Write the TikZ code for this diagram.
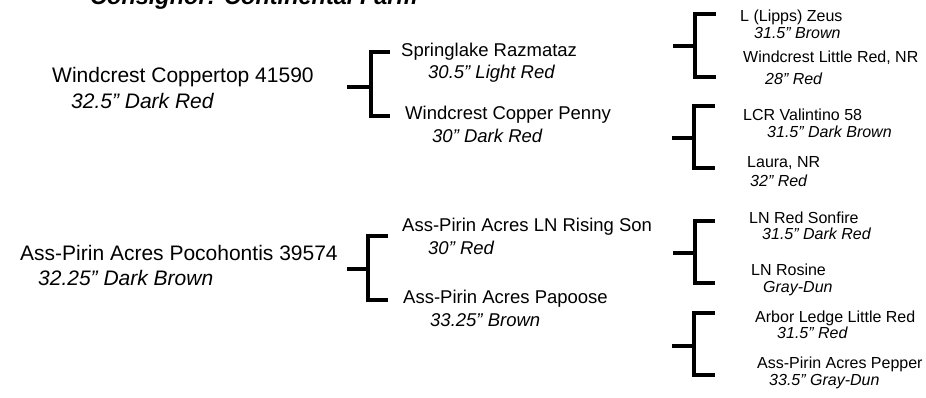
\documentclass[tikz,border=0pt]{standalone}
\usepackage{fontspec}
\setmainfont{Liberation Sans}

\begin{document}
\begin{tikzpicture}[
    x=1pt, y=-1pt,
    titulo/.style={
    anchor=base west,
    inner sep=0pt,
    font=\fontsize{23.5}{28}\selectfont\bfseries\itshape
    },
    nome0/.style={anchor=base west, inner sep=0pt, font=\fontsize{21}{25}\selectfont},
    info0/.style={nome0, font=\fontsize{21}{25}\selectfont\itshape},
    nome1/.style={anchor=base west, inner sep=0pt, font=\fontsize{18.5}{22}\selectfont},
    info1/.style={nome1, font=\fontsize{18.5}{22}\selectfont\itshape},
    nome2/.style={anchor=base west, inner sep=0pt, font=\fontsize{16}{19}\selectfont},
    info2/.style={nome2, font=\fontsize{16}{19}\selectfont\itshape},
    chave/.style={line width=3.6pt, line join=miter}
    ]
    
    \useasboundingbox (0,0) rectangle (926,398);
    
    \node[titulo] (tit) at (90,5) {Consignor: Continental Farm};
    
    % first animal
    \node[nome0] (wc) at (52,83) {Windcrest Coppertop 41590};
    \node[info0] (wcI) at (71,109) {32.5” Dark Red};
    
    \node[nome1] (sr) at (401,57) {Springlake Razmataz};
    \node[info1] (srI) at (428,79) {30.5” Light Red};
    \node[nome1] (wp) at (405,120) {Windcrest Copper Penny};
    \node[info1] (wpI) at (432,143) {30” Dark Red};
    
    \node[nome2] (lz) at (740,22) {L (Lipps) Zeus};
    \node[info2] (lzI) at (754,39) {31.5” Brown};
    \node[nome2] (wl) at (743,63) {Windcrest Little Red, NR};
    \node[info2] (wlI) at (765,85) {28” Red};
    \node[nome2] (lv) at (743,121) {LCR Valintino 58};
    \node[info2] (lvI) at (767,138) {31.5” Dark Brown};
    \node[nome2] (la) at (747,168) {Laura, NR};
    \node[info2] (laI) at (750,187) {32” Red};
    
    % second animal
    \node[nome0] (ap) at (20,260) {Ass-Pirin Acres Pocohontis 39574};
    \node[info0] (apI) at (38,285) {32.25” Dark Brown};
    
    \node[nome1] (rs) at (402,232) {Ass-Pirin Acres LN Rising Son};
    \node[info1] (rsI) at (428,254) {30” Red};
    \node[nome1] (pa) at (403,303) {Ass-Pirin Acres Papoose};
    \node[info1] (paI) at (430,326) {33.25” Brown};
    
    \node[nome2] (ls) at (749,223) {LN Red Sonfire};
    \node[info2] (lsI) at (762,240) {31.5” Dark Red};
    \node[nome2] (lr) at (751,275) {LN Rosine};
    \node[info2] (lrI) at (763,292) {Gray-Dun};
    \node[nome2] (al) at (755,322) {Arbor Ledge Little Red};
    \node[info2] (alI) at (777,338) {31.5” Red};
    \node[nome2] (pp) at (757,368) {Ass-Pirin Acres Pepper};
    \node[info2] (ppI) at (769,385) {33.5” Gray-Dun};
    
    % brackets
    \coordinate (k1) at (347,87);  \coordinate (k1v) at (371,87);
    \coordinate (k1a) at (390,52); \coordinate (k1b) at (390,116);
    \coordinate (k2) at (347,269); \coordinate (k2v) at (368,269);
    \coordinate (k2a) at (388,236); \coordinate (k2b) at (388,300);
    \coordinate (k3) at (673,46);  \coordinate (k3v) at (695,46);
    \coordinate (k3a) at (716,14); \coordinate (k3b) at (716,77);
    \coordinate (k4) at (672,138); \coordinate (k4v) at (694,138);
    \coordinate (k4a) at (715,106); \coordinate (k4b) at (715,168);
    \coordinate (k5) at (673,253); \coordinate (k5v) at (695,253);
    \coordinate (k5a) at (715,221); \coordinate (k5b) at (715,283);
    \coordinate (k6) at (672,346); \coordinate (k6v) at (694,346);
    \coordinate (k6a) at (715,313); \coordinate (k6b) at (715,375);
    
    \foreach \k in {k1,k2,k3,k4,k5,k6}{
    \draw[chave] (\k a) -| (\k v) |- (\k b);
    \draw[chave] (\k) -- (\k v);
    }
    
    \end{tikzpicture}
\end{document}
